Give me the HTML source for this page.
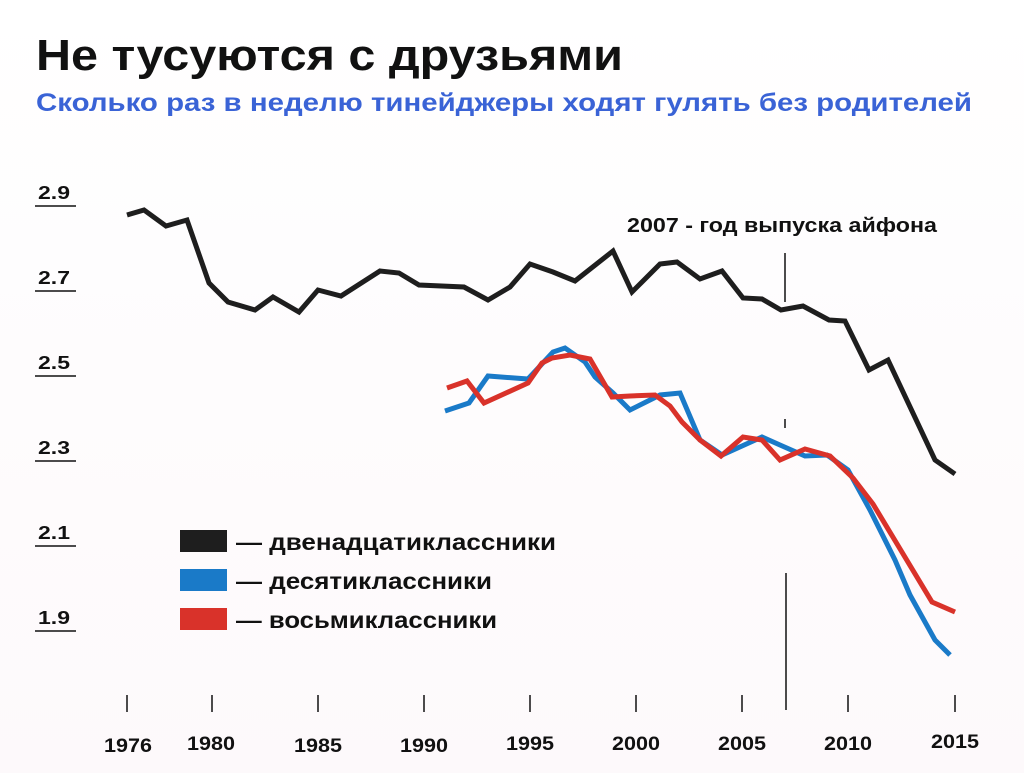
<!DOCTYPE html>
<html><head><meta charset="utf-8"><style>
body{margin:0;background:#fff;}
svg{display:block;font-family:"Liberation Sans",sans-serif;}
</style></head><body>
<svg width="1024" height="773" viewBox="0 0 1024 773">
<defs><linearGradient id="bg" x1="0" y1="0" x2="0" y2="1"><stop offset="0" stop-color="#fff"/><stop offset="1" stop-color="#fdf9fb"/></linearGradient></defs>
<rect width="1024" height="773" fill="url(#bg)"/>
<text x="36" y="70" font-size="44" font-weight="bold" fill="#111" textLength="587" lengthAdjust="spacingAndGlyphs">Не тусуются с друзьями</text>
<text x="36" y="111" font-size="25" font-weight="bold" fill="#3a63d6" textLength="936" lengthAdjust="spacingAndGlyphs">Сколько раз в неделю тинейджеры ходят гулять без родителей</text>
<g font-size="18" font-weight="bold" fill="#111">
<text x="38" y="199" textLength="32" lengthAdjust="spacingAndGlyphs">2.9</text><text x="38" y="284" textLength="32" lengthAdjust="spacingAndGlyphs">2.7</text><text x="38" y="369" textLength="32" lengthAdjust="spacingAndGlyphs">2.5</text>
<text x="38" y="454" textLength="32" lengthAdjust="spacingAndGlyphs">2.3</text><text x="38" y="539" textLength="32" lengthAdjust="spacingAndGlyphs">2.1</text><text x="38" y="624" textLength="32" lengthAdjust="spacingAndGlyphs">1.9</text>
</g>
<g stroke="#111" stroke-width="1.5">
<line x1="35" y1="206" x2="76" y2="206"/><line x1="35" y1="291" x2="76" y2="291"/><line x1="35" y1="376" x2="76" y2="376"/>
<line x1="35" y1="461" x2="76" y2="461"/><line x1="35" y1="546" x2="76" y2="546"/><line x1="35" y1="631" x2="76" y2="631"/>
<line x1="127" y1="695" x2="127" y2="712"/><line x1="212" y1="695" x2="212" y2="712"/><line x1="318" y1="695" x2="318" y2="712"/>
<line x1="424" y1="695" x2="424" y2="712"/><line x1="530" y1="695" x2="530" y2="712"/><line x1="636" y1="695" x2="636" y2="712"/>
<line x1="742" y1="695" x2="742" y2="712"/><line x1="848" y1="695" x2="848" y2="712"/><line x1="955" y1="695" x2="955" y2="712"/>
<line x1="785" y1="253" x2="785" y2="302"/><line x1="785" y1="419" x2="785" y2="428"/><line x1="786" y1="573" x2="786" y2="710"/>
</g>
<g font-size="19" font-weight="bold" fill="#111" text-anchor="middle">
<text x="128" y="752" textLength="48" lengthAdjust="spacingAndGlyphs">1976</text><text x="211" y="750" textLength="48" lengthAdjust="spacingAndGlyphs">1980</text><text x="318" y="752" textLength="48" lengthAdjust="spacingAndGlyphs">1985</text>
<text x="424" y="752" textLength="48" lengthAdjust="spacingAndGlyphs">1990</text><text x="530" y="750" textLength="48" lengthAdjust="spacingAndGlyphs">1995</text><text x="636" y="750" textLength="48" lengthAdjust="spacingAndGlyphs">2000</text>
<text x="742" y="750" textLength="48" lengthAdjust="spacingAndGlyphs">2005</text><text x="848" y="750" textLength="48" lengthAdjust="spacingAndGlyphs">2010</text><text x="955" y="748" textLength="48" lengthAdjust="spacingAndGlyphs">2015</text>
</g>
<text x="627" y="232" font-size="20" font-weight="bold" fill="#111" textLength="310" lengthAdjust="spacingAndGlyphs">2007 -  год выпуска айфона</text>
<g fill="none" stroke-width="5" stroke-linejoin="miter">
<polyline stroke="#1e1e1e" points="127,215 144,210 166,226 187,220 209,283 228,302 255,310 273,297 299,312 318,290 341,296 380,271 399,273 419,285 464,287 488,300 510,287 530,264 553,272 575,281 613,251 632,292 660,264 677,262 700,279 722,271 743,298 762,299 781,310 803,306 829,320 845,321 869,370 888,360 935,460 955,474"/>
<polyline stroke="#1a7ac8" points="445,411 469,403 488,376 528,379 553,352 565,348 585,362 595,377 613,393 630,410 660,395 680,393 700,440 722,455 762,437 780,445 805,456 827,455 848,470 870,510 895,560 910,595 935,640 950,655"/>
<polyline stroke="#d9322a" points="447,388 467,381 484,403 528,383 542,363 552,358 570,355 590,359 612,397 630,396 655,395 670,406 682,422 700,440 721,456 743,437 762,440 780,460 805,449 830,456 853,478 873,504 932,602 955,612"/>
</g>
<rect x="180" y="530" width="47" height="22" fill="#1e1e1e"/>
<rect x="180" y="569" width="47" height="22" fill="#1a7ac8"/>
<rect x="180" y="608" width="47" height="22" fill="#d9322a"/>
<g font-size="23" font-weight="bold" fill="#111">
<text x="236" y="550" textLength="320" lengthAdjust="spacingAndGlyphs">— двенадцатиклассники</text>
<text x="236" y="589" textLength="256" lengthAdjust="spacingAndGlyphs">— десятиклассники</text>
<text x="236" y="628" textLength="261" lengthAdjust="spacingAndGlyphs">— восьмиклассники</text>
</g>
</svg>
</body></html>
